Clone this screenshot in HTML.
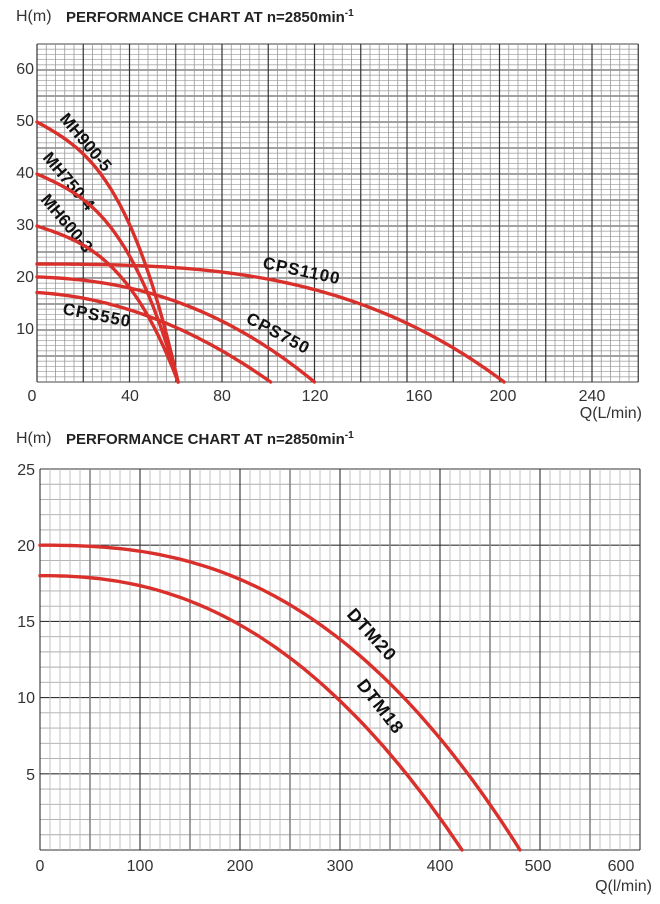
<!DOCTYPE html>
<html><head><meta charset="utf-8"><style>
html,body{margin:0;padding:0;background:#fff;}
svg{display:block;font-family:"Liberation Sans",Arial,sans-serif;}
</style></head><body>
<svg id="s" width="660" height="904" viewBox="0 0 660 904" xmlns="http://www.w3.org/2000/svg">
<g id="g1"></g><g id="g2"></g>
<text x="16" y="21" font-size="16" fill="#333">H(m)</text>
<text x="66" y="22" font-size="15" font-weight="bold" fill="#222">PERFORMANCE CHART AT n=2850min<tspan dy="-6" font-size="10">-1</tspan></text>
<text x="16" y="443" font-size="16" fill="#333">H(m)</text>
<text x="66" y="444" font-size="15" font-weight="bold" fill="#222">PERFORMANCE CHART AT n=2850min<tspan dy="-6" font-size="10">-1</tspan></text>
<g font-size="16" fill="#333" text-anchor="end">
<text x="34" y="74">60</text><text x="34" y="126">50</text><text x="34" y="178">40</text><text x="34" y="230">30</text><text x="34" y="282">20</text><text x="34" y="334">10</text>
<text x="35" y="551">20</text><text x="35" y="627">15</text><text x="35" y="703">10</text><text x="35" y="780">5</text><text x="35" y="475">25</text>
</g>
<g font-size="16" fill="#333" text-anchor="middle">
<text x="32" y="401">0</text><text x="130" y="401">40</text><text x="222" y="401">80</text><text x="315" y="401">120</text><text x="419" y="401">160</text><text x="503" y="401">200</text><text x="592" y="401">240</text>
<text x="40" y="871">0</text><text x="140" y="871">100</text><text x="240" y="871">200</text><text x="340" y="871">300</text><text x="440" y="871">400</text><text x="538" y="871">500</text><text x="621" y="871">600</text>
</g>
<text x="642" y="418" font-size="16" fill="#333" text-anchor="end">Q(L/min)</text>
<text x="652" y="891" font-size="16" fill="#333" text-anchor="end">Q(l/min)</text>
<g font-size="17" font-weight="bold" fill="#111">
<text transform="translate(59,119) rotate(50)">MH900-5</text>
<text transform="translate(42,158) rotate(50)">MH750-4</text>
<text transform="translate(40,200) rotate(50)">MH600-3</text>
<text transform="translate(262,268) rotate(12)" letter-spacing="1">CPS1100</text>
<text transform="translate(245,322) rotate(28)" letter-spacing="1">CPS750</text>
<text transform="translate(62,314) rotate(11)" letter-spacing="1">CPS550</text>
<text transform="translate(346,615) rotate(48)" font-size="18" letter-spacing="1">DTM20</text>
<text transform="translate(356,685) rotate(52)" font-size="18" letter-spacing="1">DTM18</text>
</g>
<g id="curves" fill="none" stroke="#d9302c" stroke-width="3.4" stroke-linecap="round"></g>
</svg>
<script>
var NS="http://www.w3.org/2000/svg";
function L(g,x1,y1,x2,y2,c,w){var l=document.createElementNS(NS,"line");l.setAttribute("x1",x1);l.setAttribute("y1",y1);l.setAttribute("x2",x2);l.setAttribute("y2",y2);l.setAttribute("stroke",c);l.setAttribute("stroke-width",w);g.appendChild(l);}
var g1=document.getElementById("g1"),g2=document.getElementById("g2");
var X1=function(q){return 37+q*2.3125},Y1=function(h){return 382-h*5.2};
for(var h=0;h<=65;h++){var c=h%5==0?"#444":"#aaa",w=h%5==0?1:0.8;L(g1,37,Y1(h),X1(260),Y1(h),c,w);}
for(var q=0;q<=260;q+=4){var c=q%20==0?"#333":"#999",w=q%20==0?1.2:0.8;L(g1,X1(q),Y1(65),X1(q),382,c,w);}
var X2=function(q){return 40+q},Y2=function(h){return 850-h*15.24};
for(var h=0;h<=25;h++){var c=h%5==0?"#333":"#aaa",w=h%5==0?1.1:0.9;L(g2,40,Y2(h),640,Y2(h),c,w);}
for(var q=0;q<=600;q+=10){var c=q%100==0?"#333":(q%50==0?"#888":"#bbb"),w=q%100==0?1.1:(q%50==0?1.6:0.9);L(g2,X2(q),Y2(25),X2(q),850,c,w);}
var cg=document.getElementById("curves");
function C(X,Y,H0,Qm,p,a){a=a||0;var d="";for(var i=0;i<=80;i++){var t=i/80,q=Qm*t,h=H0*(1-a*t-(1-a)*Math.pow(t,p));d+=(i?"L":"M")+X(q).toFixed(1)+","+Y(h).toFixed(1);}var pa=document.createElementNS(NS,"path");pa.setAttribute("d",d);cg.appendChild(pa);}
C(X1,Y1,50,61,3,0.3);C(X1,Y1,40,61,3,0.3);C(X1,Y1,30,61,3,0.3);
C(X1,Y1,22.7,202,3,0.02);C(X1,Y1,20.2,120,2.3,0.1);C(X1,Y1,17.2,101,2,0.15);
C(X2,Y2,20,480,2.5);C(X2,Y2,18,422,2.3);
</script>
</body></html>
